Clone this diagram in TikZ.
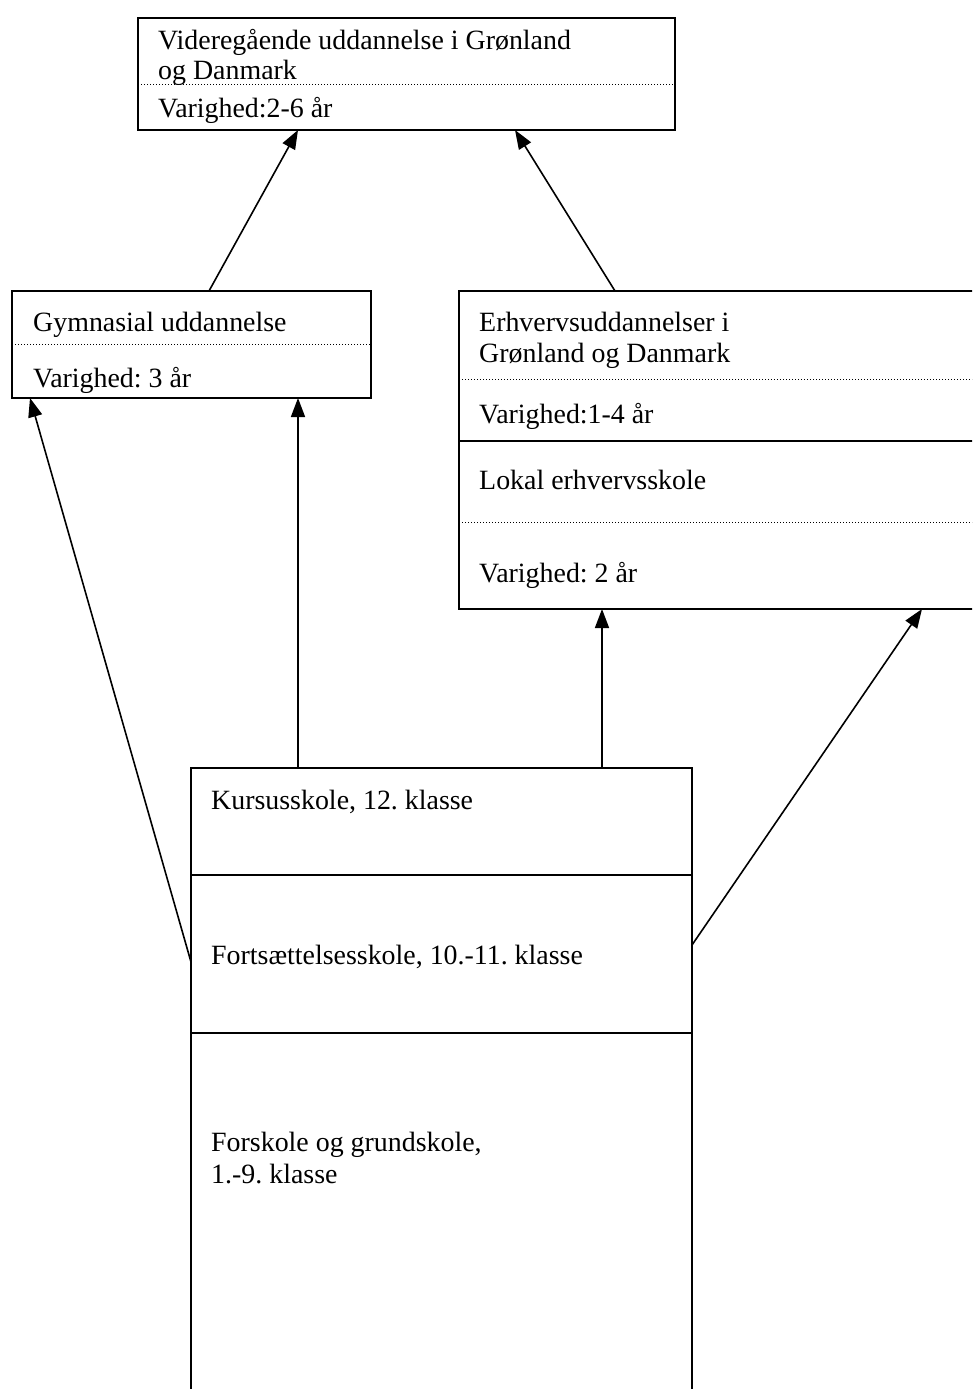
\documentclass[tikz,border=0pt]{standalone}
\usepackage{fontspec}
\setmainfont{Liberation Serif}
\usetikzlibrary{arrows.meta}
\frenchspacing
\begin{document}
\begin{tikzpicture}[x=1pt,y=-1pt,
  box/.style={draw,line width=1.6pt,inner sep=0pt,outer sep=0pt,anchor=north west},
  lbl/.style={anchor=base west,inner sep=0pt,font=\fontsize{27.9}{31}\selectfont},
  dotsep/.style={line width=0.9pt,dash pattern=on 1pt off 2pt},
  solsep/.style={line width=1.6pt},
  arr/.style={line width=1.6pt,-{Triangle[length=19pt,width=14pt]}}]
\useasboundingbox (0,0) rectangle (972,1389);
\clip (0,0) rectangle (972,1389);
% boxes
\node[box,minimum width=537pt,minimum height=112pt] (top) at (138,18) {};
\node[box,minimum width=359pt,minimum height=107pt] (gym) at (12,291) {};
\node[box,minimum width=521pt,minimum height=318pt] (erh) at (459,291) {};
\node[box,minimum width=501pt,minimum height=640pt] (bot) at (191,768) {};
% separators
\draw[dotsep] ([yshift=-66pt]top.north west) -- ([yshift=-66pt]top.north east);
\draw[dotsep] ([yshift=-53pt]gym.north west) -- ([yshift=-53pt]gym.north east);
\draw[dotsep] ([yshift=-88pt]erh.north west) -- ([yshift=-88pt]erh.north east);
\draw[solsep] ([yshift=-150pt]erh.north west) -- ([yshift=-150pt]erh.north east);
\draw[dotsep] ([yshift=-231pt]erh.north west) -- ([yshift=-231pt]erh.north east);
\draw[solsep] ([yshift=-107pt]bot.north west) -- ([yshift=-107pt]bot.north east);
\draw[solsep] ([yshift=-265pt]bot.north west) -- ([yshift=-265pt]bot.north east);
% texts
\node[lbl] (t1) at (158,49) {Videregående uddannelse i Grønland};
\node[lbl] (t2) at (158,79) {og Danmark};
\node[lbl] (t3) at (158,117) {Varighed:2-6 år};
\node[lbl] (g1) at (33,331) {Gymnasial uddannelse};
\node[lbl] (g2) at (33,387) {Varighed: 3 år};
\node[lbl] (e1) at (479,331) {Erhvervsuddannelser i};
\node[lbl] (e2) at (479,362) {Grønland og Danmark};
\node[lbl] (e3) at (479,423) {Varighed:1-4 år};
\node[lbl] (e4) at (479,489) {Lokal erhvervsskole};
\node[lbl] (e5) at (479,582) {Varighed: 2 år};
\node[lbl] (b1) at (211,809) {Kursusskole, 12. klasse};
\node[lbl] (b2) at (211,964) {Fortsættelsesskole, 10.-11. klasse};
\node[lbl] (b3) at (211,1151) {Forskole og grundskole,};
\node[lbl] (b4) at (211,1183) {1.-9. klasse};
% arrows
\draw[arr] ([xshift=197pt]gym.north west) -- ([xshift=160pt]top.south west);
\draw[arr] ([xshift=156pt]erh.north west) -- ([xshift=377pt]top.south west);
\draw[arr] ([yshift=-194pt]bot.north west) -- ([xshift=18pt]gym.south west);
\draw[arr] ([xshift=107pt]bot.north west) -- ([xshift=286pt]gym.south west);
\draw[arr] ([xshift=411pt]bot.north west) -- ([xshift=143pt]erh.south west);
\draw[arr] ([yshift=-177pt]bot.north east) -- ([xshift=463pt]erh.south west);
\end{tikzpicture}
\end{document}
